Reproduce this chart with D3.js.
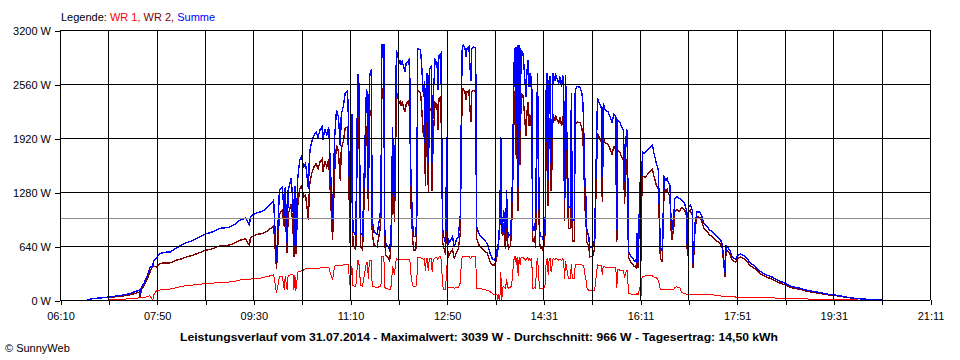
<!DOCTYPE html>
<html><head><meta charset="utf-8">
<script src="https://cdn.jsdelivr.net/npm/d3@7/dist/d3.min.js"></script>
<style>
body{margin:0;background:#fff}
svg text{font-family:"Liberation Sans",Arial,sans-serif;}
</style>
</head><body>
<svg id="chart" width="960" height="360"></svg>
<script>
const times = [
"06:38","06:41","06:47","06:53","07:00","07:04","07:10","07:16","07:22","07:28",
"07:32","07:33","07:34","07:37","07:40","07:43","07:46","07:47","07:50","07:53",
"07:58","08:04","08:10","08:15","08:20","08:26","08:32","08:40","08:47","08:56",
"09:04","09:10","09:16","09:22","09:26","09:27","09:33","09:39","09:43","09:47",
"09:51","09:54","09:57","10:00","10:02","10:03","10:05","10:06","10:09","10:11",
"10:12","10:13","10:14","10:16","10:18","10:20","10:22","10:24","10:27","10:28",
"10:29","10:31","10:33","10:35","10:37","10:39","10:41","10:42","10:44","10:46",
"10:48","10:52","10:54","10:56","10:58","11:00","11:01","11:03","11:05","11:07",
"11:08","11:10","11:12","11:13","11:16","11:18","11:19","11:21","11:23","11:27",
"11:28","11:29","11:30","11:31","11:32","11:33","11:35","11:38","11:41","11:42",
"11:43","11:45","11:46","11:47","11:49","11:51","11:52","11:53","11:54","11:56",
"11:57","11:58","12:00","12:01","12:02","12:03","12:04","12:06","12:07","12:08",
"12:09","12:11","12:12","12:13","12:14","12:15","12:16","12:18","12:19","12:20",
"12:23","12:24","12:26","12:27","12:28","12:29","12:30","12:31","12:32","12:34",
"12:35","12:36","12:37","12:38","12:40","12:41","12:42","12:44","12:46","12:47",
"12:49","12:50","12:51","12:52","12:56","12:58","13:00","13:02","13:04","13:05",
"13:06","13:07","13:09","13:10","13:11","13:13","13:15","13:16","13:18","13:20",
"13:21","13:22","13:24","13:27","13:29","13:32","13:35","13:37","13:39","13:41",
"13:42","13:43","13:44","13:45","13:46","13:47","13:48","13:49","13:50","13:51",
"13:52","13:53","13:54","13:56","13:57","13:58","13:59","14:00","14:01","14:02",
"14:03","14:04","14:05","14:06","14:07","14:09","14:10","14:11","14:12","14:13",
"14:14","14:15","14:16","14:17","14:18","14:19","14:20","14:21","14:22","14:23",
"14:24","14:26","14:27","14:29","14:30","14:32","14:33","14:34","14:35","14:36",
"14:37","14:38","14:39","14:40","14:42","14:43","14:45","14:46","14:47","14:49",
"14:50","14:51","14:52","14:53","14:56","14:58","14:59","15:00","15:02","15:03",
"15:05","15:08","15:10","15:11","15:12","15:13","15:14","15:15","15:17","15:18",
"15:21","15:23","15:26","15:28","15:30","15:31","15:32","15:34","15:37","15:39",
"15:41","15:43","15:45","15:46","15:47","15:49","15:51","15:53","15:54","15:56",
"15:57","15:58","16:01","16:04","16:06","16:07","16:08","16:10","16:11","16:12",
"16:13","16:15","16:18","16:21","16:23","16:24","16:27","16:29","16:31","16:33",
"16:35","16:37","16:38","16:39","16:41","16:42","16:43","16:45","16:46","16:48",
"16:51","16:53","16:56","16:58","16:59","17:00","17:02","17:04","17:05","17:07",
"17:09","17:12","17:14","17:16","17:19","17:22","17:26","17:30","17:33","17:35",
"17:38","17:39","17:41","17:43","17:45","17:47","17:49","17:51","17:54","17:58",
"18:01","18:04","18:09","18:14","18:20","18:27","18:33","18:40","18:47","18:55",
"19:03","19:10","19:17","19:24","19:31","19:37","19:43","19:49","19:56","20:03",
"20:10","20:16","20:20"];

// WR 1 (red)
const wr1 = [
0,0,0,0,0,5,8,10,15,20,
25,25,25,30,40,50,0,60,110,118,
125,130,145,160,168,175,185,193,200,205,
212,220,237,245,245,248,255,262,275,285,
300,85,277,280,120,280,118,290,300,300,
120,300,110,330,340,345,355,370,370,370,
370,375,375,375,375,380,380,380,380,385,
385,237,400,410,410,410,410,415,420,420,
420,180,400,170,160,470,470,170,165,440,
440,250,460,470,470,160,155,150,158,158,
510,510,150,140,130,125,130,200,400,300,
420,490,480,480,480,480,480,485,480,485,
485,485,470,300,220,170,160,158,200,500,
500,495,480,490,350,490,490,340,490,490,
330,470,490,500,500,480,510,510,160,130,
130,420,150,150,150,140,145,150,200,400,
510,515,515,510,515,515,490,515,515,510,
140,138,135,130,125,115,100,80,60,60,
70,0,70,0,336,0,150,160,150,140,
250,150,140,150,170,260,420,510,515,420,
515,280,510,420,510,505,490,480,470,490,
500,470,490,470,490,140,140,150,135,420,
500,140,135,135,130,180,480,490,300,480,
490,330,400,490,480,490,480,470,480,470,
485,470,250,460,250,250,430,250,250,415,
420,420,415,410,380,300,250,150,110,110,
110,110,415,410,405,300,400,390,385,380,
380,385,380,140,360,355,355,355,260,355,
350,75,70,70,65,80,65,150,40,260,
280,285,290,290,285,275,265,230,130,125,
130,130,130,130,125,125,120,130,150,155,
150,90,75,70,65,65,65,65,60,60,
60,60,60,60,60,60,60,55,50,45,
45,45,40,40,40,40,35,35,35,35,
35,35,30,30,25,25,22,20,15,12,
12,10,8,8,5,5,3,2,0,0,
0,0,0];

// WR 2 (dark red)
const wr2 = [
0,10,20,25,35,35,42,50,60,80,
90,35,115,170,240,330,410,400,390,432,
440,440,470,485,507,525,550,587,605,645,
648,670,708,725,645,742,775,788,805,840,
880,370,1023,1060,870,1060,552,1010,1140,880,
510,1050,540,1120,1320,1355,1225,1250,950,1330,
1430,1525,1585,1615,1555,1640,1670,1520,1650,1575,
1665,713,1500,1840,1760,1410,1790,1875,2030,2050,
1930,670,1800,650,600,2200,2200,630,595,2060,
2010,1050,2140,2230,2250,790,645,630,832,992,
2510,2510,680,530,510,465,580,790,1650,925,
1595,2470,2380,2320,2364,2305,2345,2260,2225,2315,
2335,2359,2130,1160,925,700,590,592,790,2480,
2460,2305,1930,2110,1350,2160,2200,1280,2235,2275,
1290,1940,2110,2344,2320,2010,2390,2415,670,620,
540,1515,600,520,600,490,565,600,790,1615,
2450,2505,2465,2370,2465,2485,2110,2465,2485,2470,
730,692,635,600,585,555,453,414,414,453,
522,600,720,900,1599,800,760,907,680,610,
1050,680,610,640,820,1160,1790,2390,2485,1670,
2505,1060,2510,1595,2450,2420,2275,2120,1940,2200,
2344,2060,2200,2060,2160,690,690,760,615,1595,
2190,690,615,615,580,810,2050,2200,1120,2120,
2160,1290,1615,2200,2120,2175,2120,2100,2170,2060,
2180,2150,935,2205,850,850,2020,700,700,2075,
2110,2100,2035,1920,1555,1100,975,680,640,510,
520,600,1975,1920,1875,1160,1930,1860,1845,1790,
1730,1815,1790,690,1770,1755,1695,1660,1140,1660,
1650,498,443,400,385,710,385,1250,460,1340,
1470,1455,1490,1530,1550,1485,1355,1310,500,455,
1330,1290,1310,1270,1235,865,710,870,1050,1070,
1050,1095,1075,1000,525,1035,1060,1005,380,850,
985,980,930,850,820,770,740,695,670,625,
271,595,580,550,480,460,445,495,510,490,
455,405,370,310,275,245,208,180,145,128,
103,90,77,62,55,45,32,23,15,10,
6,3,0];

// Summe (blue)
const summe = [
0,10,20,25,35,40,50,60,75,100,
115,60,140,200,280,380,410,460,500,550,
565,570,615,645,675,700,735,780,805,850,
860,890,945,970,890,990,1030,1050,1080,1125,
1180,455,1300,1340,990,1340,670,1300,1440,1180,
630,1350,650,1450,1660,1700,1580,1620,1320,1700,
1800,1900,1960,1990,1930,2020,2050,1900,2030,1960,
2050,950,1900,2250,2170,1820,2200,2290,2450,2470,
2350,850,2200,820,760,2670,2670,800,760,2500,
2450,1300,2600,2700,2720,950,800,780,990,1150,
3020,3020,830,670,640,590,710,990,2050,1225,
2015,2960,2860,2800,2844,2785,2825,2745,2705,2800,
2820,2844,2600,1460,1145,870,750,750,990,2980,
2960,2800,2410,2600,1700,2650,2690,1620,2725,2765,
1620,2410,2600,2844,2820,2490,2900,2925,830,750,
670,1935,750,670,750,630,710,750,990,2015,
2960,3020,2980,2880,2980,3000,2600,2980,3000,2980,
870,830,770,730,710,670,553,494,474,513,
592,600,790,900,1935,800,910,1067,830,750,
1300,830,750,790,990,1420,2210,2900,3000,2090,
3020,1340,3020,2015,2960,2925,2765,2600,2410,2690,
2844,2530,2690,2530,2650,830,830,910,750,2015,
2690,830,750,750,710,990,2530,2690,1420,2600,
2650,1620,2015,2690,2600,2665,2600,2570,2650,2530,
2665,2620,1185,2665,1100,1100,2450,950,950,2490,
2530,2520,2450,2330,1935,1400,1225,830,750,620,
630,710,2390,2330,2280,1460,2330,2250,2230,2170,
2110,2200,2170,830,2130,2110,2050,2015,1400,2015,
2000,573,513,470,450,790,450,1400,500,1600,
1750,1740,1780,1820,1835,1760,1620,1540,630,580,
1460,1420,1440,1400,1360,990,830,1000,1200,1225,
1200,1185,1150,1070,590,1100,1125,1070,440,910,
1045,1040,990,910,880,830,800,750,720,670,
316,640,620,590,520,500,480,530,545,525,
490,440,400,340,300,270,230,200,160,140,
115,100,85,70,60,50,35,25,15,10,
6,3,0];

const yTickValues = [0, 640, 1280, 1920, 2560, 3200];
const yTickLabels = ["0 W", "640 W", "1280 W", "1920 W", "2560 W", "3200 W"];
const xTickLabels = ["06:10", "07:50", "09:30", "11:10", "12:50", "14:31", "16:11", "17:51", "19:31", "21:11"];
const axisStart = "06:10";
const axisEnd = "21:10";
const gridStepMinutes = 50;
const averageW = 966;
const seriesNames = ["WR 1", "WR 2", "Summe"];
const legendLabel = "Legende: ";
const titleText = "Leistungsverlauf vom 31.07.2014 - Maximalwert: 3039 W - Durchschnitt: 966 W - Tagesertrag: 14,50 kWh";
const creditText = "\u00A9 SunnyWeb";

const W = 960, H = 360;
const pL = 60, pR = 930, pT = 30, pB = 300;
const parse = d3.timeParse("%H:%M");
const t0 = parse(axisStart), t1 = parse(axisEnd);

const x = d3.scaleTime().domain([t0, t1]).range([pL, pR]);
const y = d3.scaleLinear().domain([0, 3200]).range([pB, pT]);

const svg = d3.select("#chart");
svg.append("rect").attr("width", W).attr("height", H).attr("fill", "#fff");

const gridTimes = d3.range(0, 19).map(i => new Date(t0.getTime() + i * gridStepMinutes * 60000));

const data = times.map((t, i) => ({ t: parse(t), a: wr1[i], b: wr2[i], s: summe[i] }));

const plot = svg.append("g");
const line = key => d3.line().x(d => x(d.t)).y(d => y(d[key]));

// average line
svg.append("line")
  .attr("x1", pL).attr("x2", pR)
  .attr("y1", Math.round(y(averageW)) + 0.5).attr("y2", Math.round(y(averageW)) + 0.5)
  .attr("stroke", "#8c8c8c").attr("stroke-width", 1).attr("shape-rendering", "crispEdges");

const colors = ["#ff0000", "#800000", "#0000ff"];
[["a", colors[0], 1], ["b", colors[1], 1.4], ["s", colors[2], 1.4]].forEach(([k, c, w]) => {
  plot.append("path").datum(data)
    .attr("d", line(k))
    .attr("fill", "none").attr("stroke", c).attr("stroke-width", w)
    .attr("stroke-linejoin", "miter")
    .attr("shape-rendering", "crispEdges");
});

// grid on top
const grid = svg.append("g").attr("shape-rendering", "crispEdges").attr("stroke", "#000");
grid.selectAll("line.h").data(yTickValues).join("line")
  .attr("x1", pL).attr("x2", pR)
  .attr("y1", d => Math.round(y(d)) + 0.5).attr("y2", d => Math.round(y(d)) + 0.5);
grid.selectAll("line.v").data(gridTimes).join("line")
  .attr("x1", d => Math.round(x(d)) + 0.5).attr("x2", d => Math.round(x(d)) + 0.5)
  .attr("y1", pT).attr("y2", pB);

// axes
const xAxis = d3.axisBottom(x).tickValues(gridTimes).tickSize(5).tickPadding(7)
  .tickFormat((d, i) => i % 2 === 0 ? xTickLabels[i / 2] : "");
const gx = svg.append("g").attr("transform", `translate(0.5,${pB})`).call(xAxis);
const yAxis = d3.axisLeft(y).tickValues(yTickValues).tickSize(5).tickPadding(4)
  .tickFormat((d, i) => yTickLabels[i]);
const gy = svg.append("g").attr("transform", `translate(${pL},0.5)`).call(yAxis);
[gx, gy].forEach(g => {
  g.select(".domain").remove();
  g.attr("font-family", null).attr("font-size", null);
  g.selectAll("line").attr("stroke", "#000").attr("shape-rendering", "crispEdges");
  g.selectAll("text").attr("fill", "#000").style("font-size", "11px");
});

// legend
const leg = svg.append("text").attr("x", 61).attr("y", 21).style("font-size", "11px");
leg.append("tspan").attr("fill", "#000").text(legendLabel);
leg.append("tspan").attr("fill", colors[0]).text(seriesNames[0] + ", ");
leg.append("tspan").attr("fill", colors[1]).text(seriesNames[1] + ", ");
leg.append("tspan").attr("fill", colors[2]).text(seriesNames[2]);

// title
svg.append("text").attr("x", 479).attr("y", 341).attr("text-anchor", "middle")
  .style("font-size", "11.5px").style("font-weight", "bold")
  .attr("textLength", 598).attr("lengthAdjust", "spacingAndGlyphs")
  .text(titleText);

svg.append("text").attr("x", 5).attr("y", 352).style("font-size", "11px").text(creditText);
</script>
</body></html>
